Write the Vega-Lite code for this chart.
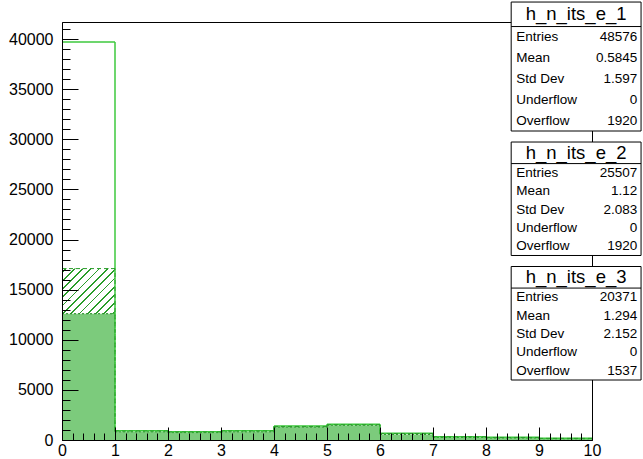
{
  "$schema": "https://vega.github.io/schema/vega-lite/v6.json",
  "width": 530,
  "height": 418,
  "autosize": {"type": "none"},
  "padding": {"left": 62, "top": 22, "right": 51, "bottom": 19},
  "background": "white",
  "config": {
    "font": "Liberation Sans",
    "view": {"stroke": "#000000", "strokeWidth": 1}
  },
  "datasets": {
    "hist": [
      {"h": "h_n_its_e_1", "lo": 0, "hi": 1, "n": 39700},
      {"h": "h_n_its_e_1", "lo": 1, "hi": 2, "n": 930},
      {"h": "h_n_its_e_1", "lo": 2, "hi": 3, "n": 830},
      {"h": "h_n_its_e_1", "lo": 3, "hi": 4, "n": 930},
      {"h": "h_n_its_e_1", "lo": 4, "hi": 5, "n": 1400},
      {"h": "h_n_its_e_1", "lo": 5, "hi": 6, "n": 1570},
      {"h": "h_n_its_e_1", "lo": 6, "hi": 7, "n": 670},
      {"h": "h_n_its_e_1", "lo": 7, "hi": 8, "n": 330},
      {"h": "h_n_its_e_1", "lo": 8, "hi": 9, "n": 270},
      {"h": "h_n_its_e_1", "lo": 9, "hi": 10, "n": 170},
      {"h": "h_n_its_e_2", "lo": 0, "hi": 1, "n": 17100},
      {"h": "h_n_its_e_2", "lo": 1, "hi": 2, "n": 900},
      {"h": "h_n_its_e_2", "lo": 2, "hi": 3, "n": 800},
      {"h": "h_n_its_e_2", "lo": 3, "hi": 4, "n": 900},
      {"h": "h_n_its_e_2", "lo": 4, "hi": 5, "n": 1350},
      {"h": "h_n_its_e_2", "lo": 5, "hi": 6, "n": 1520},
      {"h": "h_n_its_e_2", "lo": 6, "hi": 7, "n": 640},
      {"h": "h_n_its_e_2", "lo": 7, "hi": 8, "n": 310},
      {"h": "h_n_its_e_2", "lo": 8, "hi": 9, "n": 250},
      {"h": "h_n_its_e_2", "lo": 9, "hi": 10, "n": 160},
      {"h": "h_n_its_e_3", "lo": 0, "hi": 1, "n": 12600},
      {"h": "h_n_its_e_3", "lo": 1, "hi": 2, "n": 820},
      {"h": "h_n_its_e_3", "lo": 2, "hi": 3, "n": 740},
      {"h": "h_n_its_e_3", "lo": 3, "hi": 4, "n": 820},
      {"h": "h_n_its_e_3", "lo": 4, "hi": 5, "n": 1300},
      {"h": "h_n_its_e_3", "lo": 5, "hi": 6, "n": 1480},
      {"h": "h_n_its_e_3", "lo": 6, "hi": 7, "n": 560},
      {"h": "h_n_its_e_3", "lo": 7, "hi": 8, "n": 260},
      {"h": "h_n_its_e_3", "lo": 8, "hi": 9, "n": 210},
      {"h": "h_n_its_e_3", "lo": 9, "hi": 10, "n": 130}
    ],
    "stats": [
      {"box": 1, "line": 0, "stat": "h_n_its_e_1", "value": ""},
      {"box": 1, "line": 1, "stat": "Entries", "value": "48576"},
      {"box": 1, "line": 2, "stat": "Mean", "value": "0.5845"},
      {"box": 1, "line": 3, "stat": "Std Dev", "value": "1.597"},
      {"box": 1, "line": 4, "stat": "Underflow", "value": "0"},
      {"box": 1, "line": 5, "stat": "Overflow", "value": "1920"},
      {"box": 2, "line": 0, "stat": "h_n_its_e_2", "value": ""},
      {"box": 2, "line": 1, "stat": "Entries", "value": "25507"},
      {"box": 2, "line": 2, "stat": "Mean", "value": "1.12"},
      {"box": 2, "line": 3, "stat": "Std Dev", "value": "2.083"},
      {"box": 2, "line": 4, "stat": "Underflow", "value": "0"},
      {"box": 2, "line": 5, "stat": "Overflow", "value": "1920"},
      {"box": 3, "line": 0, "stat": "h_n_its_e_3", "value": ""},
      {"box": 3, "line": 1, "stat": "Entries", "value": "20371"},
      {"box": 3, "line": 2, "stat": "Mean", "value": "1.294"},
      {"box": 3, "line": 3, "stat": "Std Dev", "value": "2.152"},
      {"box": 3, "line": 4, "stat": "Underflow", "value": "0"},
      {"box": 3, "line": 5, "stat": "Overflow", "value": "1537"}
    ]
  },
  "layer": [
    {
      "data": {"name": "hist"},
      "encoding": {
        "x": {
          "field": "lo", "type": "quantitative",
          "scale": {"domain": [0, 10], "nice": false, "zero": false},
          "axis": {
            "title": null, "grid": false, "zindex": 1,
            "values": [0,0.2,0.4,0.6,0.8,1,1.2,1.4,1.6,1.8,2,2.2,2.4,2.6,2.8,3,3.2,3.4,3.6,3.8,4,4.2,4.4,4.6,4.8,5,5.2,5.4,5.6,5.8,6,6.2,6.4,6.6,6.8,7,7.2,7.4,7.6,7.8,8,8.2,8.4,8.6,8.8,9,9.2,9.4,9.6,9.8,10],
            "labelExpr": "abs(datum.value - round(datum.value)) < 0.001 ? format(datum.value, 'd') : ''",
            "tickSize": {"condition": {"test": "abs(datum.value - round(datum.value)) < 0.001", "value": -13}, "value": -7},
            "labelPadding": 15, "labelFlush": false, "labelOverlap": false,
            "labelFontSize": 16, "labelColor": "#000000", "labelFont": "Liberation Sans",
            "tickColor": "#000000", "domainColor": "#000000", "tickWidth": 1, "domainWidth": 1
          }
        },
        "y": {
          "field": "n", "type": "quantitative",
          "scale": {"domain": [0, 41700], "nice": false, "zero": true},
          "axis": {
            "title": null, "grid": false, "zindex": 1,
            "values": [0,1000,2000,3000,4000,5000,6000,7000,8000,9000,10000,11000,12000,13000,14000,15000,16000,17000,18000,19000,20000,21000,22000,23000,24000,25000,26000,27000,28000,29000,30000,31000,32000,33000,34000,35000,36000,37000,38000,39000,40000,41000],
            "labelExpr": "datum.value % 5000 === 0 ? format(datum.value, 'd') : ''",
            "tickSize": {"condition": {"test": "datum.value % 5000 === 0", "value": -16}, "value": -8},
            "labelPadding": 25, "labelOverlap": false,
            "labelFontSize": 16, "labelColor": "#000000", "labelFont": "Liberation Sans",
            "tickColor": "#000000", "domainColor": "#000000", "tickWidth": 1, "domainWidth": 1
          }
        }
      },
      "layer": [
        {
          "transform": [{"filter": "datum.h === 'h_n_its_e_2' && datum.lo === 0"}],
          "mark": {
            "type": "rect", "strokeWidth": 0,
            "fill": {
              "gradient": "linear", "x1": 0, "y1": 0, "x2": 0.3695, "y2": 1.195,
              "stops": [
                {"offset": 0, "color": "#ffffff"},
                {"offset": 0.015, "color": "#ffffff"}, {"offset": 0.015, "color": "#2a9d2a"}, {"offset": 0.023, "color": "#2a9d2a"}, {"offset": 0.023, "color": "#ffffff"},
                {"offset": 0.052, "color": "#ffffff"}, {"offset": 0.052, "color": "#2a9d2a"}, {"offset": 0.060, "color": "#2a9d2a"}, {"offset": 0.060, "color": "#ffffff"},
                {"offset": 0.089, "color": "#ffffff"}, {"offset": 0.089, "color": "#2a9d2a"}, {"offset": 0.097, "color": "#2a9d2a"}, {"offset": 0.097, "color": "#ffffff"},
                {"offset": 0.126, "color": "#ffffff"}, {"offset": 0.126, "color": "#2a9d2a"}, {"offset": 0.134, "color": "#2a9d2a"}, {"offset": 0.134, "color": "#ffffff"},
                {"offset": 0.163, "color": "#ffffff"}, {"offset": 0.163, "color": "#2a9d2a"}, {"offset": 0.171, "color": "#2a9d2a"}, {"offset": 0.171, "color": "#ffffff"},
                {"offset": 0.200, "color": "#ffffff"}, {"offset": 0.200, "color": "#2a9d2a"}, {"offset": 0.208, "color": "#2a9d2a"}, {"offset": 0.208, "color": "#ffffff"},
                {"offset": 0.237, "color": "#ffffff"}, {"offset": 0.237, "color": "#2a9d2a"}, {"offset": 0.245, "color": "#2a9d2a"}, {"offset": 0.245, "color": "#ffffff"},
                {"offset": 0.274, "color": "#ffffff"}, {"offset": 0.274, "color": "#2a9d2a"}, {"offset": 0.282, "color": "#2a9d2a"}, {"offset": 0.282, "color": "#ffffff"},
                {"offset": 0.311, "color": "#ffffff"}, {"offset": 0.311, "color": "#2a9d2a"}, {"offset": 0.319, "color": "#2a9d2a"}, {"offset": 0.319, "color": "#ffffff"},
                {"offset": 0.348, "color": "#ffffff"}, {"offset": 0.348, "color": "#2a9d2a"}, {"offset": 0.356, "color": "#2a9d2a"}, {"offset": 0.356, "color": "#ffffff"},
                {"offset": 0.385, "color": "#ffffff"}, {"offset": 0.385, "color": "#2a9d2a"}, {"offset": 0.393, "color": "#2a9d2a"}, {"offset": 0.393, "color": "#ffffff"},
                {"offset": 0.422, "color": "#ffffff"}, {"offset": 0.422, "color": "#2a9d2a"}, {"offset": 0.430, "color": "#2a9d2a"}, {"offset": 0.430, "color": "#ffffff"},
                {"offset": 0.459, "color": "#ffffff"}, {"offset": 0.459, "color": "#2a9d2a"}, {"offset": 0.467, "color": "#2a9d2a"}, {"offset": 0.467, "color": "#ffffff"},
                {"offset": 0.496, "color": "#ffffff"}, {"offset": 0.496, "color": "#2a9d2a"}, {"offset": 0.504, "color": "#2a9d2a"}, {"offset": 0.504, "color": "#ffffff"},
                {"offset": 1, "color": "#ffffff"}
              ]
            }
          },
          "encoding": {"x2": {"field": "hi"}, "y2": {"datum": 0}}
        },
        {
          "transform": [{"filter": "datum.h === 'h_n_its_e_3'"}],
          "mark": {"type": "rect", "fill": "#7ccb7c", "strokeWidth": 0},
          "encoding": {"x2": {"field": "hi"}, "y2": {"datum": 0}}
        },
        {
          "transform": [{"filter": "datum.h === 'h_n_its_e_3'"}],
          "mark": {"type": "rule", "stroke": "#1e8c1e", "strokeWidth": 1, "strokeDash": [2, 2]},
          "encoding": {"x2": {"field": "hi"}}
        },
        {
          "transform": [
            {"filter": "datum.h === 'h_n_its_e_3'"},
            {"window": [{"op": "lag", "field": "n", "as": "pn"}], "sort": [{"field": "lo"}]}
          ],
          "mark": {"type": "rule", "stroke": "#1e8c1e", "strokeWidth": 1, "strokeDash": [2, 2]},
          "encoding": {"y2": {"field": "pn"}}
        },
        {
          "transform": [{"filter": "datum.h === 'h_n_its_e_1'"}],
          "mark": {"type": "rule", "stroke": "#3cc83c", "strokeWidth": 1.5},
          "encoding": {"x2": {"field": "hi"}}
        },
        {
          "transform": [
            {"filter": "datum.h === 'h_n_its_e_1'"},
            {"window": [{"op": "lag", "field": "n", "as": "pn"}], "sort": [{"field": "lo"}]}
          ],
          "mark": {"type": "rule", "stroke": "#3cc83c", "strokeWidth": 1.5},
          "encoding": {"y2": {"field": "pn"}}
        },
        {
          "transform": [{"filter": "datum.h === 'h_n_its_e_2'"}],
          "mark": {"type": "rule", "stroke": "#2a9d2a", "strokeWidth": 1, "strokeDash": [4, 3]},
          "encoding": {"x2": {"field": "hi"}}
        },
        {
          "transform": [
            {"filter": "datum.h === 'h_n_its_e_2'"},
            {"window": [{"op": "lag", "field": "n", "as": "pn"}], "sort": [{"field": "lo"}]}
          ],
          "mark": {"type": "rule", "stroke": "#2a9d2a", "strokeWidth": 1, "strokeDash": [4, 3]},
          "encoding": {"y2": {"field": "pn"}}
        }
      ]
    },
    {
      "data": {"name": "stats"},
      "transform": [
        {"calculate": "datum.box === 1 ? 0.9956 : datum.box === 2 ? 0.6906 : 0.4194", "as": "y2b"},
        {"calculate": "datum.box === 1 ? 0.7146 : datum.box === 2 ? 0.4434 : 0.1721", "as": "y1b"},
        {"calculate": "datum.y2b - 0.19 * (datum.y2b - datum.y1b)", "as": "sep"},
        {"calculate": "datum.line === 0 ? (datum.y2b + datum.sep) / 2 : datum.sep - (datum.line - 0.5) * (datum.sep - datum.y1b) / 5", "as": "yc"}
      ],
      "layer": [
        {
          "transform": [{"filter": "datum.line === 0"}],
          "mark": {"type": "rect", "fill": "#ffffff", "stroke": "#000000", "strokeWidth": 1},
          "encoding": {
            "x": {"datum": 0.795, "type": "quantitative", "scale": {"domain": [0.0964, 0.9207], "nice": false, "zero": false}, "axis": null},
            "x2": {"datum": 0.997},
            "y": {"field": "y2b", "type": "quantitative", "scale": {"domain": [0.0414, 0.9521], "nice": false, "zero": false}, "axis": null},
            "y2": {"field": "y1b"}
          }
        },
        {
          "transform": [{"filter": "datum.line === 0"}],
          "mark": {"type": "rule", "stroke": "#000000", "strokeWidth": 1},
          "encoding": {
            "x": {"datum": 0.795, "type": "quantitative", "scale": {"domain": [0.0964, 0.9207], "nice": false, "zero": false}, "axis": null},
            "x2": {"datum": 0.997},
            "y": {"field": "sep", "type": "quantitative", "scale": {"domain": [0.0414, 0.9521], "nice": false, "zero": false}, "axis": null}
          }
        },
        {
          "transform": [{"filter": "datum.line === 0"}],
          "mark": {"type": "text", "align": "center", "baseline": "middle", "fontSize": 18.5, "color": "#000000", "font": "Liberation Sans"},
          "encoding": {
            "x": {"datum": 0.896, "type": "quantitative", "scale": {"domain": [0.0964, 0.9207], "nice": false, "zero": false}, "axis": null},
            "y": {"field": "yc", "type": "quantitative", "scale": {"domain": [0.0414, 0.9521], "nice": false, "zero": false}, "axis": null},
            "text": {"field": "stat"}
          }
        },
        {
          "transform": [{"filter": "datum.line > 0"}],
          "mark": {"type": "text", "align": "left", "baseline": "middle", "fontSize": 13.5, "color": "#000000", "font": "Liberation Sans"},
          "encoding": {
            "x": {"datum": 0.803, "type": "quantitative", "scale": {"domain": [0.0964, 0.9207], "nice": false, "zero": false}, "axis": null},
            "y": {"field": "yc", "type": "quantitative", "scale": {"domain": [0.0414, 0.9521], "nice": false, "zero": false}, "axis": null},
            "text": {"field": "stat"}
          }
        },
        {
          "transform": [{"filter": "datum.line > 0"}],
          "mark": {"type": "text", "align": "right", "baseline": "middle", "fontSize": 13.5, "color": "#000000", "font": "Liberation Sans"},
          "encoding": {
            "x": {"datum": 0.991, "type": "quantitative", "scale": {"domain": [0.0964, 0.9207], "nice": false, "zero": false}, "axis": null},
            "y": {"field": "yc", "type": "quantitative", "scale": {"domain": [0.0414, 0.9521], "nice": false, "zero": false}, "axis": null},
            "text": {"field": "value"}
          }
        }
      ]
    }
  ],
  "resolve": {"scale": {"x": "independent", "y": "independent"}}
}
